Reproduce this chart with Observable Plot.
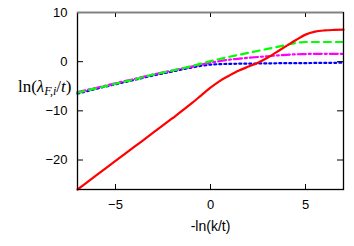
<!DOCTYPE html>
<html><head><meta charset="utf-8">
<script src="https://cdn.jsdelivr.net/npm/d3@7"></script>
<script src="https://cdn.jsdelivr.net/npm/@observablehq/plot@0.6"></script>
<style>body{margin:0;background:#fff}</style>
</head><body><div id="chart"></div>
<script>
const xTicks = [-5, 0, 5];
const yTicks = [-20, -10, 0, 10];
const xTickLabels = ["-5", "0", "5"];
const yTickLabels = ["-20", "-10", "0", "10"];
const xLabel = "-ln(k/t)";
const yLabel = "ln(λF,i/t)";

const xSmooth = [-7,-6,-5,-4,-3,-2,-1,0,1,2,3,4,4.5,5,5.5,6,7];
const green   = [-6.3,-5.4,-4.5,-3.6,-2.6,-1.8,-0.9,0.1,1.0,1.8,2.6,3.4,3.8,4.0,4.0,4.0,4.0];
const magenta = [-6.2,-5.3,-4.4,-3.5,-2.6,-1.8,-1.0,-0.2,0.4,0.8,1.1,1.4,1.5,1.55,1.6,1.6,1.6];
const blue    = [-6.5,-5.5,-4.6,-3.7,-2.8,-2.0,-1.2,-0.6,-0.45,-0.4,-0.35,-0.3,-0.3,-0.3,-0.25,-0.25,-0.2];
const xRed = [-7,-6,-5,-4,-3,-2,-1,-0.5,0,0.5,1,1.5,2,2.5,3,3.5,4,4.5,5,5.5,6,6.5,7];
const red  = [-26,-23.1,-20.2,-17.3,-14.4,-11.5,-8.5,-6.9,-5.3,-3.9,-2.8,-1.8,-1.0,-0.2,0.8,2.0,3.2,4.4,5.5,6.1,6.35,6.45,6.5];

const toPts = (xs, ys) => xs.map((x, i) => ({x, y: ys[i]}));
const font = "Liberation Sans, Arial, Helvetica, sans-serif";

const svg = Plot.plot({
  width: 354, height: 246,
  marginLeft: 77, marginRight: 11, marginTop: 12, marginBottom: 57,
  style: {fontFamily: font, fontSize: "13px", color: "#000", background: "#fff"},
  x: {domain: [-7, 7], ticks: xTicks, tickFormat: (d) => xTickLabels[xTicks.indexOf(d)]},
  y: {domain: [-26, 10], ticks: yTicks, tickFormat: (d) => yTickLabels[yTicks.indexOf(d)]},
  marks: [
    Plot.axisX({tickSize: 0, tickPadding: 10, label: null, fontSize: 13}),
    Plot.axisY({tickSize: 0, tickPadding: 10, label: null, fontSize: 13}),
    Plot.text([xLabel], {frameAnchor: "bottom", dy: 41, fontSize: 14}),
    Plot.text([yLabel], {frameAnchor: "left", dx: -6, dy: -14, textAnchor: "end", fontSize: 17}),
    Plot.line(toPts(xSmooth, blue), {x: "x", y: "y", stroke: "#0000ff", strokeWidth: 2.2, strokeDasharray: "2,3", curve: "monotone-x"}),
    Plot.line(toPts(xSmooth, magenta), {x: "x", y: "y", stroke: "#ff00ff", strokeWidth: 2.2, strokeDasharray: "8,3,2,3", curve: "monotone-x"}),
    Plot.line(toPts(xSmooth, green), {x: "x", y: "y", stroke: "#00ff00", strokeWidth: 2.2, strokeDasharray: "7,5", curve: "monotone-x"}),
    Plot.line(toPts(xRed, red), {x: "x", y: "y", stroke: "#ff0000", strokeWidth: 2.2, curve: "monotone-x"}),
    Plot.tickX(xTicks, {x: d => d, insetTop: 172, stroke: "#000"}),
    Plot.tickX(xTicks, {x: d => d, insetBottom: 172, stroke: "#000"}),
    Plot.tickY(yTicks, {y: d => d, insetRight: 260, stroke: "#000"}),
    Plot.tickY(yTicks, {y: d => d, insetLeft: 260, stroke: "#000"}),
    Plot.frame({stroke: "#000", strokeWidth: 1.3}),
    Plot.ruleY([10], {stroke: "#808080", strokeWidth: 1.6})
  ]
});
document.getElementById("chart").appendChild(svg);

// Style the y label with math typography
d3.select(svg).selectAll("text").filter(function(){ return this.textContent === yLabel; })
  .each(function(){
    const t = d3.select(this);
    t.text(null).attr("font-family", "Liberation Serif, Times New Roman, serif");
    t.append("tspan").text("ln(");
    t.append("tspan").attr("font-style", "italic").text("λ");
    t.append("tspan").attr("font-style", "italic").attr("font-size", "12px").attr("dy", "3").text("F,i");
    t.append("tspan").attr("dy", "-3").text("/");
    t.append("tspan").attr("font-style", "italic").text("t");
    t.append("tspan").text(")");
  });
</script></body></html>
